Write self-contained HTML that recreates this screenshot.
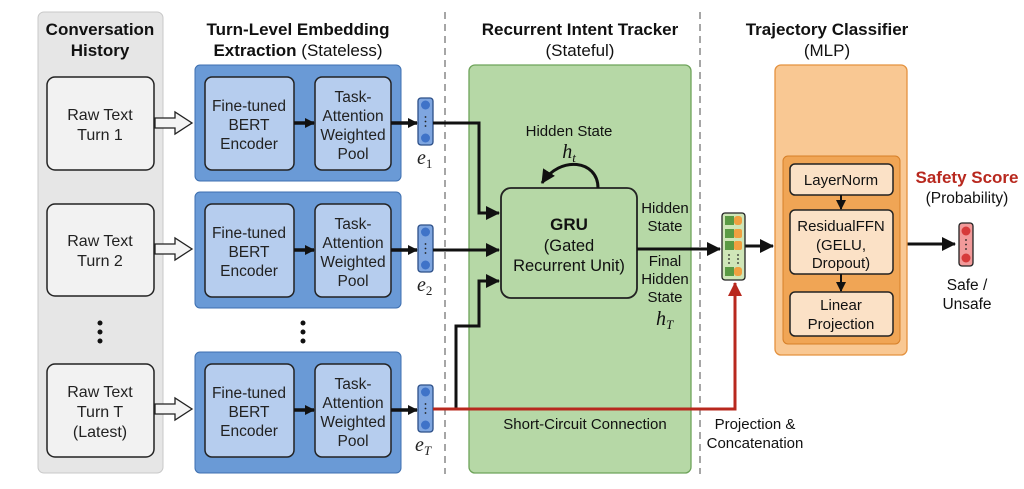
<!DOCTYPE html>
<html><head><meta charset="utf-8"><style>
html,body{margin:0;padding:0;background:#fff;}
svg{display:block;font-family:"Liberation Sans",sans-serif;}
</style></head><body>
<svg width="1024" height="489" viewBox="0 0 1024 489" xmlns="http://www.w3.org/2000/svg">
<defs>
<marker id="ah" markerWidth="10" markerHeight="10" refX="9" refY="5" orient="auto" markerUnits="userSpaceOnUse"><path d="M0,0 L10,5 L0,10 z" fill="#111"/></marker>
<marker id="ahb" markerWidth="14" markerHeight="14" refX="13" refY="7" orient="auto" markerUnits="userSpaceOnUse"><path d="M0,0 L14,7 L0,14 z" fill="#111"/></marker>
<marker id="ahr" markerWidth="14" markerHeight="14" refX="13" refY="7" orient="auto" markerUnits="userSpaceOnUse"><path d="M0,0 L14,7 L0,14 z" fill="#b8281e"/></marker>
</defs>
<rect width="1024" height="489" fill="#fff"/>
<line x1="445" y1="12" x2="445" y2="474" stroke="#888" stroke-width="1.5" stroke-dasharray="7,5"/>
<line x1="700" y1="12" x2="700" y2="474" stroke="#888" stroke-width="1.5" stroke-dasharray="7,5"/>

<rect x="38" y="12" width="125" height="461" rx="6" fill="#e6e6e6" stroke="#c8c8c8"/>
<text x="100" y="35" font-size="17" font-weight="bold" text-anchor="middle" fill="#111">Conversation</text>
<text x="100" y="56" font-size="17" font-weight="bold" text-anchor="middle" fill="#111">History</text>
<g font-size="16" text-anchor="middle" fill="#222">
<rect x="47" y="77" width="107" height="93" rx="8" fill="#f2f2f2" stroke="#222" stroke-width="1.5"/>
<text x="100" y="120">Raw Text</text><text x="100" y="140">Turn 1</text>
<rect x="47" y="204" width="107" height="92" rx="8" fill="#f2f2f2" stroke="#222" stroke-width="1.5"/>
<text x="100" y="246">Raw Text</text><text x="100" y="266">Turn 2</text>
<rect x="47" y="364" width="107" height="93" rx="8" fill="#f2f2f2" stroke="#222" stroke-width="1.5"/>
<text x="100" y="397">Raw Text</text><text x="100" y="417">Turn T</text><text x="100" y="437">(Latest)</text>
</g>
<g fill="#111"><circle cx="100" cy="323" r="2.5"/><circle cx="100" cy="332" r="2.5"/><circle cx="100" cy="341" r="2.5"/>
<circle cx="303" cy="323" r="2.5"/><circle cx="303" cy="332" r="2.5"/><circle cx="303" cy="341" r="2.5"/></g>
<g fill="#f4f4f4" stroke="#222" stroke-width="1.3">
<path d="M155,118 L175,118 L175,112 L192,123 L175,134 L175,128 L155,128 z"/>
<path d="M155,244 L175,244 L175,238 L192,249 L175,260 L175,254 L155,254 z"/>
<path d="M155,404 L175,404 L175,398 L192,409 L175,420 L175,414 L155,414 z"/>
</g>

<text x="298" y="35" font-size="17" font-weight="bold" text-anchor="middle" fill="#111">Turn-Level Embedding</text>
<text x="298" y="56" font-size="17" text-anchor="middle" fill="#111"><tspan font-weight="bold">Extraction</tspan> (Stateless)</text>

<g font-size="15.5" text-anchor="middle" fill="#222">
<g>
<rect x="195" y="65" width="206" height="116" rx="5" fill="#6a9ad6" stroke="#3d6fb0"/>
<rect x="205" y="77" width="89" height="93" rx="7" fill="#b6cdee" stroke="#222" stroke-width="1.5"/>
<rect x="315" y="77" width="76" height="93" rx="7" fill="#b6cdee" stroke="#222" stroke-width="1.5"/>
<text x="249" y="111">Fine-tuned</text><text x="249" y="130">BERT</text><text x="249" y="149">Encoder</text>
<text x="353" y="102">Task-</text><text x="353" y="121">Attention</text><text x="353" y="140">Weighted</text><text x="353" y="159">Pool</text>
<line x1="294" y1="123" x2="314" y2="123" stroke="#111" stroke-width="3.5" marker-end="url(#ah)"/>
</g>
<g transform="translate(0,127)">
<rect x="195" y="65" width="206" height="116" rx="5" fill="#6a9ad6" stroke="#3d6fb0"/>
<rect x="205" y="77" width="89" height="93" rx="7" fill="#b6cdee" stroke="#222" stroke-width="1.5"/>
<rect x="315" y="77" width="76" height="93" rx="7" fill="#b6cdee" stroke="#222" stroke-width="1.5"/>
<text x="249" y="111">Fine-tuned</text><text x="249" y="130">BERT</text><text x="249" y="149">Encoder</text>
<text x="353" y="102">Task-</text><text x="353" y="121">Attention</text><text x="353" y="140">Weighted</text><text x="353" y="159">Pool</text>
<line x1="294" y1="123" x2="314" y2="123" stroke="#111" stroke-width="3.5" marker-end="url(#ah)"/>
</g>
<g transform="translate(0,287)">
<rect x="195" y="65" width="206" height="121" rx="5" fill="#6a9ad6" stroke="#3d6fb0"/>
<rect x="205" y="77" width="89" height="93" rx="7" fill="#b6cdee" stroke="#222" stroke-width="1.5"/>
<rect x="315" y="77" width="76" height="93" rx="7" fill="#b6cdee" stroke="#222" stroke-width="1.5"/>
<text x="249" y="111">Fine-tuned</text><text x="249" y="130">BERT</text><text x="249" y="149">Encoder</text>
<text x="353" y="102">Task-</text><text x="353" y="121">Attention</text><text x="353" y="140">Weighted</text><text x="353" y="159">Pool</text>
<line x1="294" y1="123" x2="314" y2="123" stroke="#111" stroke-width="3.5" marker-end="url(#ah)"/>
</g>
</g>
<g stroke="#111" stroke-width="3.5">
<line x1="391" y1="123" x2="417" y2="123" marker-end="url(#ah)"/>
<line x1="391" y1="250" x2="417" y2="250" marker-end="url(#ah)"/>
<line x1="391" y1="410" x2="417" y2="410" marker-end="url(#ah)"/>
</g>
<g>
<g id="ev"><rect x="418" y="98" width="15" height="47" rx="3" fill="#7fa6e0" stroke="#2c4f88" stroke-width="1.3"/>
<circle cx="425.5" cy="105" r="4.5" fill="#3f73c8"/><circle cx="425.5" cy="138" r="4.5" fill="#3f73c8"/>
<circle cx="425.5" cy="117" r="0.9" fill="#222"/><circle cx="425.5" cy="121.5" r="0.9" fill="#222"/><circle cx="425.5" cy="126" r="0.9" fill="#222"/></g>
<use href="#ev" transform="translate(0,127)"/>
<use href="#ev" transform="translate(0,287)"/>
</g>
<g font-family="Liberation Serif,serif" font-style="italic" font-size="20" fill="#222">
<text x="417" y="164">e<tspan font-size="13" font-style="normal" dy="4">1</tspan></text>
<text x="417" y="291">e<tspan font-size="13" font-style="normal" dy="4">2</tspan></text>
<text x="415" y="451">e<tspan font-size="13" dy="4">T</tspan></text>
</g>

<text x="580" y="35" font-size="17" font-weight="bold" text-anchor="middle" fill="#111">Recurrent Intent Tracker</text>
<text x="580" y="56" font-size="17" text-anchor="middle" fill="#111">(Stateful)</text>
<rect x="469" y="65" width="222" height="408" rx="6" fill="#b6d8a6" stroke="#6ea35a" stroke-width="1.3"/>
<rect x="501" y="188" width="136" height="110" rx="10" fill="#b6d8a6" stroke="#222" stroke-width="1.8"/>
<text x="569" y="230" font-size="17" font-weight="bold" text-anchor="middle" fill="#111">GRU</text>
<text x="569" y="251" font-size="16.5" text-anchor="middle" fill="#111">(Gated</text>
<text x="569" y="271" font-size="16.5" text-anchor="middle" fill="#111">Recurrent Unit)</text>
<text x="569" y="136" font-size="15" text-anchor="middle" fill="#111">Hidden State</text>
<text x="569" y="158" font-family="Liberation Serif,serif" font-style="italic" font-size="20" text-anchor="middle" fill="#111">h<tspan font-size="13" dy="4">t</tspan></text>
<path d="M598,188 C598,160 560,155 542,183" fill="none" stroke="#111" stroke-width="3" marker-end="url(#ahb)"/>
<g font-size="15" text-anchor="middle" fill="#111">
<text x="665" y="213">Hidden</text><text x="665" y="231">State</text>
<text x="665" y="266">Final</text><text x="665" y="284">Hidden</text><text x="665" y="302">State</text>
</g>
<text x="656" y="325" font-family="Liberation Serif,serif" font-style="italic" font-size="20" fill="#111">h<tspan font-size="13" dy="4">T</tspan></text>
<text x="585" y="429" font-size="15" text-anchor="middle" fill="#111">Short-Circuit Connection</text>
<g stroke="#111" stroke-width="3" fill="none">
<path d="M433,123 L479,123 L479,213 L499,213" marker-end="url(#ahb)"/>
<path d="M433,250 L499,250" marker-end="url(#ahb)"/>
<path d="M456,409 L456,326 L479,326 L479,281 L499,281" marker-end="url(#ahb)"/>
<path d="M637,249 L720,249" marker-end="url(#ahb)"/>
<path d="M745,246 L773,246" marker-end="url(#ahb)"/>
<path d="M907,244 L955,244" marker-end="url(#ahb)"/>
</g>
<path d="M433,409 L735,409 L735,283" fill="none" stroke="#b8281e" stroke-width="3" marker-end="url(#ahr)"/>
<g font-size="15" text-anchor="middle" fill="#111"><text x="755" y="429">Projection &amp;</text><text x="755" y="448">Concatenation</text></g>

<rect x="722" y="213" width="23" height="67" rx="3" fill="#cfe6b8" stroke="#222" stroke-width="1.3"/>
<g fill="#5a9a44"><rect x="725" y="216" width="9" height="9"/><rect x="725" y="229" width="9" height="9"/><rect x="725" y="241" width="9" height="9"/><rect x="725" y="267" width="9" height="9"/></g>
<g fill="#f0a040"><rect x="734" y="216" width="8" height="9" rx="3"/><rect x="734" y="229" width="8" height="9" rx="2"/><rect x="734" y="241" width="8" height="9" rx="2"/><rect x="734" y="267" width="8" height="9" rx="3"/></g>
<g fill="#222"><circle cx="729" cy="255" r="0.9"/><circle cx="729" cy="259" r="0.9"/><circle cx="729" cy="263" r="0.9"/><circle cx="738" cy="255" r="0.9"/><circle cx="738" cy="259" r="0.9"/><circle cx="738" cy="263" r="0.9"/></g>

<text x="827" y="35" font-size="17" font-weight="bold" text-anchor="middle" fill="#111">Trajectory Classifier</text>
<text x="827" y="56" font-size="17" text-anchor="middle" fill="#111">(MLP)</text>
<rect x="775" y="65" width="132" height="290" rx="6" fill="#f9c893" stroke="#e4923f" stroke-width="1.3"/>
<rect x="783" y="156" width="117" height="188" rx="5" fill="#f0a555" stroke="#d67f28"/>
<g font-size="15" text-anchor="middle" fill="#111">
<rect x="790" y="164" width="103" height="31" rx="5" fill="#fbe1c6" stroke="#222" stroke-width="1.5"/>
<text x="841" y="185">LayerNorm</text>
<rect x="790" y="210" width="103" height="64" rx="5" fill="#fbe1c6" stroke="#222" stroke-width="1.5"/>
<text x="841" y="231">ResidualFFN</text><text x="841" y="250">(GELU,</text><text x="841" y="268">Dropout)</text>
<rect x="790" y="292" width="103" height="44" rx="5" fill="#fbe1c6" stroke="#222" stroke-width="1.5"/>
<text x="841" y="310">Linear</text><text x="841" y="329">Projection</text>
</g>
<g stroke="#111" stroke-width="2"><line x1="841" y1="195" x2="841" y2="209" marker-end="url(#ah)"/><line x1="841" y1="274" x2="841" y2="291" marker-end="url(#ah)"/></g>
<text x="967" y="183" font-size="17" font-weight="bold" text-anchor="middle" fill="#b8281e">Safety Score</text>
<text x="967" y="203" font-size="15.5" text-anchor="middle" fill="#111">(Probability)</text>
<rect x="959" y="223" width="14" height="43" rx="3" fill="#f29a9a" stroke="#222" stroke-width="1.3"/>
<circle cx="966" cy="231" r="4.5" fill="#d63a3a"/><circle cx="966" cy="258" r="4.5" fill="#d63a3a"/>
<circle cx="966" cy="240" r="0.9" fill="#222"/><circle cx="966" cy="244.5" r="0.9" fill="#222"/><circle cx="966" cy="249" r="0.9" fill="#222"/>
<text x="967" y="290" font-size="15.5" text-anchor="middle" fill="#111">Safe /</text>
<text x="967" y="309" font-size="15.5" text-anchor="middle" fill="#111">Unsafe</text>
</svg>
</body></html>
